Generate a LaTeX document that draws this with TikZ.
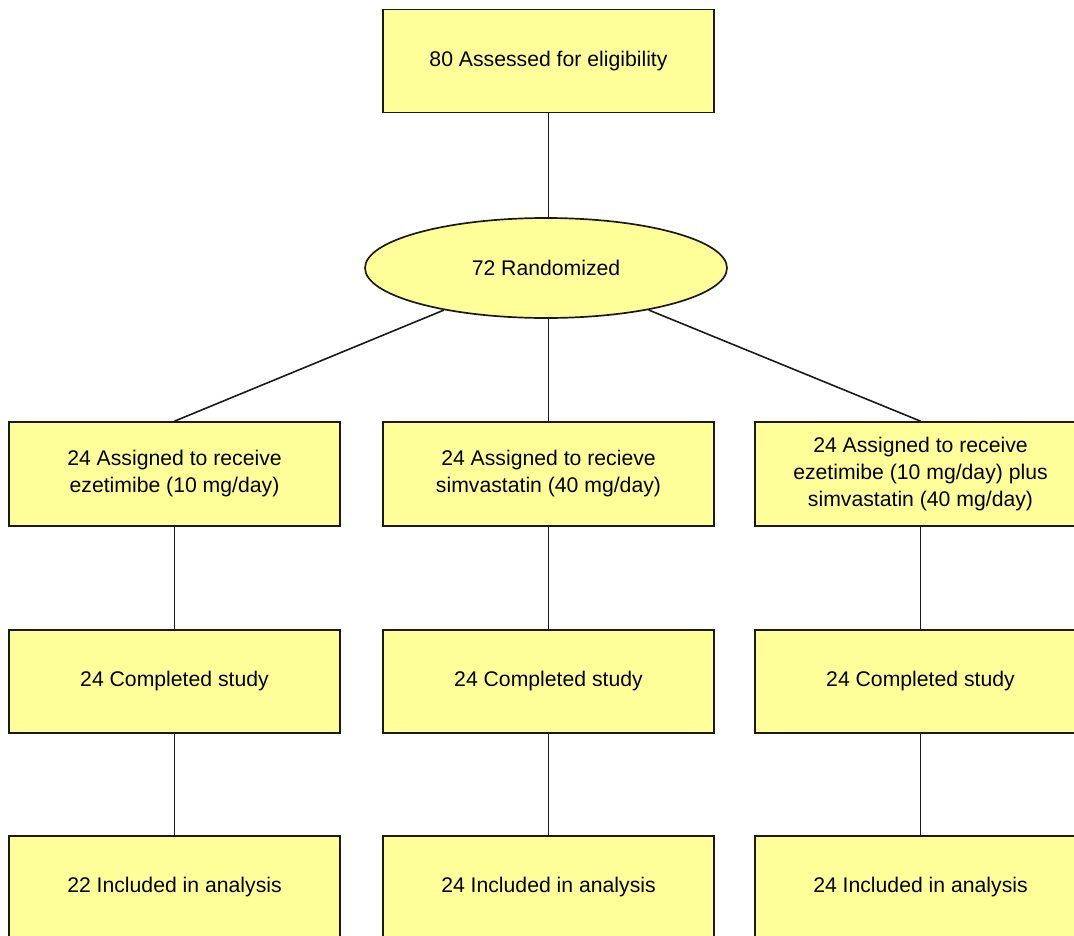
\documentclass[tikz,border=0pt]{standalone}
\usepackage{fontspec}
\setmainfont{Liberation Sans}
\usetikzlibrary{shapes.geometric}
\definecolor{boxfill}{HTML}{FFFF99}
\definecolor{boxline}{HTML}{1A1A1A}
\tikzset{
  flowbox/.style={draw=boxline, line width=1.7pt, fill=boxfill, minimum width=331pt, minimum height=103pt, align=center, inner sep=0pt, font=\fontsize{21.2pt}{27pt}\selectfont},
  flowell/.style={draw=boxline, line width=1.7pt, fill=boxfill, ellipse, minimum width=362pt, minimum height=100pt, inner sep=0pt, font=\fontsize{21.2pt}{27pt}\selectfont},
  link/.style={draw=boxline, line width=1.6pt}
}
\begin{document}
\begin{tikzpicture}[x=1pt,y=-1pt]
\useasboundingbox (0,0) rectangle (1074,935);
\clip (0,0) rectangle (1074,935);
\node[flowbox] (top) at (548.5,61) {80 Assessed for eligibility};
\node[flowell] (rand) at (546,268) {72 Randomized};
\node[flowbox, minimum height=104pt] (a1) at (174.5,474) {24 Assigned to receive\\ezetimibe (10 mg/day)};
\node[flowbox, minimum height=104pt] (b1) at (548.5,474) {24 Assigned to recieve\\simvastatin (40 mg/day)};
\node[flowbox, minimum height=104pt] (c1) at (920.5,474) {24 Assigned to receive\\ezetimibe (10 mg/day) plus\\simvastatin (40 mg/day)};
\node[flowbox] (a2) at (174.5,681.5) {24 Completed study};
\node[flowbox] (b2) at (548.5,681.5) {24 Completed study};
\node[flowbox] (c2) at (920.5,681.5) {24 Completed study};
\node[flowbox] (a3) at (174.5,887.5) {22 Included in analysis};
\node[flowbox] (b3) at (548.5,887.5) {24 Included in analysis};
\node[flowbox] (c3) at (920.5,887.5) {24 Included in analysis};
\draw[link] (top.south) -- (top.south |- rand.north);
\draw[link] (rand) -- (a1.north);
\draw[link] (rand.south -| b1.north) -- (b1.north);
\draw[link] (rand) -- (c1.north);
\draw[link] (a1) -- (a2);
\draw[link] (b1) -- (b2);
\draw[link] (c1) -- (c2);
\draw[link] (a2) -- (a3);
\draw[link] (b2) -- (b3);
\draw[link] (c2) -- (c3);
\end{tikzpicture}
\end{document}
